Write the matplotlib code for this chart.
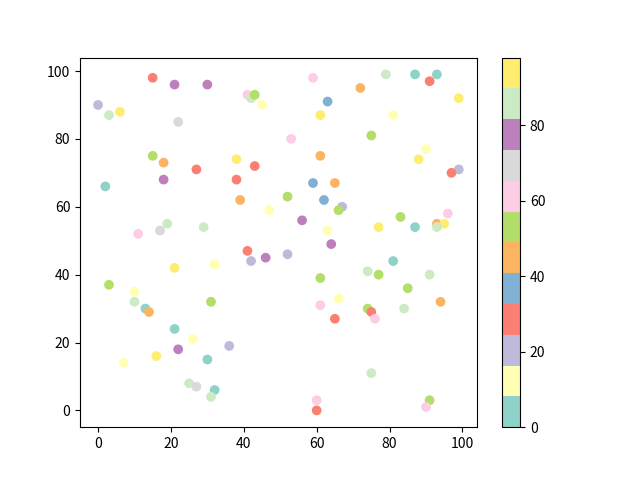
import matplotlib
matplotlib.use("Agg")
import matplotlib.pyplot as plt

plt.rcParams['font.family'] = ['Noto Sans CJK SC', 'DejaVu Sans']

# colour-band values (Set3 bands over 0..98)
TEAL, LYEL, LAV, SAL, BLUE, ORA, GRN, PINK, GREY, PUR, LGRN, YEL = 4, 12, 20, 29, 37, 45, 53, 61, 69, 78, 86, 94

x = [15, 21, 30, 41, 42, 43, 45, 0, 3, 6, 22, 15, 18, 27, 38, 43, 18, 38, 2, 39, 47, 19, 17, 29, 11,
     59, 79, 87, 93, 91, 72, 63, 99, 61, 81, 53, 75, 61, 90, 88, 99, 97, 59, 65, 52, 62, 67, 66, 56,
     63, 64, 77, 83, 87, 96, 93, 95, 93,
     41, 42, 46, 21, 32, 3, 10, 10, 31, 13, 14, 21, 26, 22, 36, 16, 30, 7, 25, 27, 32, 31,
     52, 81, 74, 77, 91, 61, 85, 66, 94, 61, 74, 75, 84, 65, 76, 75, 60, 60, 91, 90]
y = [98, 96, 96, 93, 92, 93, 90, 90, 87, 88, 85, 75, 73, 71, 74, 72, 68, 68, 66, 62, 59, 55, 53, 54, 52,
     98, 99, 99, 99, 97, 95, 91, 92, 87, 87, 80, 81, 75, 77, 74, 71, 70, 67, 67, 63, 62, 60, 59, 56,
     53, 49, 54, 57, 54, 58, 55, 55, 54,
     47, 44, 45, 42, 43, 37, 35, 32, 32, 30, 29, 24, 21, 18, 19, 16, 15, 14, 8, 7, 6, 4,
     46, 44, 41, 40, 40, 39, 36, 33, 32, 31, 30, 29, 30, 27, 27, 11, 3, 0, 3, 1]
c = [SAL, PUR, PUR, PINK, LGRN, GRN, LYEL, LAV, LGRN, 98, GREY, GRN, ORA, SAL, YEL, SAL, PUR, SAL, 0, ORA, LYEL, LGRN, GREY, LGRN, PINK,
     PINK, LGRN, TEAL, TEAL, SAL, ORA, BLUE, YEL, YEL, LYEL, PINK, GRN, ORA, LYEL, YEL, LAV, SAL, BLUE, ORA, GRN, BLUE, LAV, GRN, PUR,
     LYEL, PUR, YEL, GRN, TEAL, PINK, ORA, YEL, LGRN,
     SAL, LAV, PUR, YEL, LYEL, GRN, LYEL, LGRN, GRN, TEAL, ORA, TEAL, LYEL, PUR, LAV, YEL, TEAL, LYEL, LGRN, GREY, TEAL, LGRN,
     LAV, TEAL, LGRN, GRN, LGRN, GRN, GRN, LYEL, ORA, PINK, GRN, SAL, LGRN, SAL, PINK, LGRN, PINK, SAL, GRN, PINK]

fig, ax = plt.subplots(figsize=(6.4, 4.8), dpi=100)
sc = ax.scatter(x, y, c=c, cmap='Set3')
fig.colorbar(sc)
fig.savefig('out.png')
